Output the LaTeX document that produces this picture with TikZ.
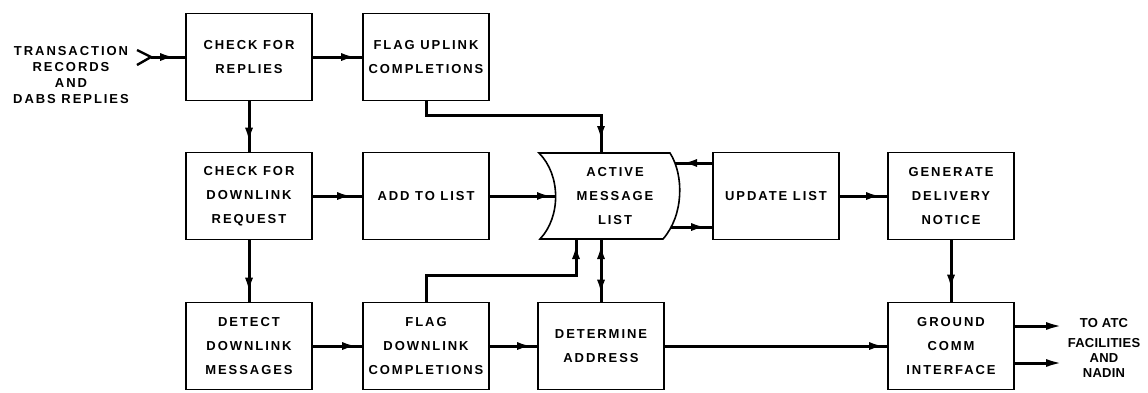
\documentclass[tikz,border=0pt]{standalone}
\usepackage{fontspec}
\setmainfont{Liberation Sans}[LetterSpace=15]
\newfontfamily\smallfam{Liberation Sans}[LetterSpace=2]
\usetikzlibrary{arrows.meta,decorations.markings}
\tikzset{
  box/.style={draw, line width=1.6pt, minimum width=126pt, minimum height=87pt,
    inner sep=0pt, align=center, font=\bfseries\fontsize{13}{24}\selectfont},
  conn/.style={line width=3pt, postaction={decorate},
    decoration={markings, mark=at position -#1 with {\arrow{Latex[length=15pt,width=8pt]}}}},
  conn/.default=7pt,
  conntwo/.style={line width=3pt, postaction={decorate},
    decoration={markings,
      mark=at position 7pt with {\arrowreversed{Latex[length=15pt,width=8pt]}},
      mark=at position -5pt with {\arrow{Latex[length=15pt,width=8pt]}}}},
  outarrow/.style={line width=3pt, -{Latex[length=17pt,width=8pt]}},
  shapeline/.style={line width=1.6pt},
}
\begin{document}
\begin{tikzpicture}[x=1pt,y=-1pt]
\useasboundingbox (0,0) rectangle (1148,392);

% boxes
\node[box] (cr) at (249,57) {CHECK FOR\\REPLIES};
\node[box] (fu) at (426,57) {FLAG UPLINK\\COMPLETIONS};
\node[box] (cd) at (249,196) {CHECK FOR\\DOWNLINK\\REQUEST};
\node[box] (al) at (426,196) {ADD TO LIST};
\node[box] (ul) at (776,196) {UPDATE LIST};
\node[box] (gd) at (951,196) {GENERATE\\DELIVERY\\NOTICE};
\node[box] (dd) at (249,346) {DETECT\\DOWNLINK\\MESSAGES};
\node[box] (fd) at (426,346) {FLAG\\DOWNLINK\\COMPLETIONS};
\node[box] (da) at (601,346) {DETERMINE\\ADDRESS};
\node[box] (gc) at (951,346) {GROUND\\COMM\\INTERFACE};

% active message list (stored data shape)
\node[align=center, inner sep=0pt, font=\bfseries\fontsize{13}{24}\selectfont] (aml) at (615,196) {ACTIVE\\MESSAGE\\LIST};
\draw[shapeline] (539,153) -- (670,153)
  .. controls (684,175) and (684,215) .. (663,239)
  -- (540,239)
  .. controls (561,217) and (561,175) .. (539,153) -- cycle;
\coordinate (aml-l) at (555,196);
\coordinate (aml-t) at (601,153);
\coordinate (aml-ru) at (675,163);
\coordinate (aml-rl) at (671,227);
\coordinate (aml-b1) at (576,239);
\coordinate (aml-b2) at (601,239);

% input
\node[align=center, inner sep=0pt, font=\bfseries\fontsize{13}{16}\selectfont] (inlabel) at (71,75)
  {TRANSACTION\\RECORDS\\AND\\DABS REPLIES};
\coordinate (inp) at (151,57);
\draw[line width=2.4pt] ([shift={(-14,-7)}]inp) -- (inp) -- ([shift={(-14,8)}]inp);
\draw[conn=10pt] (inp) -- (cr.west);

% output
\node[align=center, inner sep=0pt, font=\smallfam\bfseries\fontsize{13}{15}\selectfont] (outlabel) at (1104,348)
  {TO ATC\\[5pt]FACILITIES\\AND\\NADIN};
\coordinate (out1) at (1063,326);
\coordinate (out2) at (1063,363);
\draw[outarrow] ([yshift=20pt]gc.east) -- (out1);
\draw[outarrow] ([yshift=-17pt]gc.east) -- (out2);

% connectors
\draw[conn=6pt] (cr.east) -- (fu.west);
\draw[conn=9pt] (cr.south) -- (cd.north);
\draw[conn=10pt] (cd.east) -- (al.west);
\draw[conn=3pt] (al.east) -- (aml-l);
\draw[conn=12pt] (fu.south) -- ++(0,14) -| (aml-t);
\draw[conn=7pt] ([yshift=33pt]ul.west) -- (aml-ru);
\draw[conn=6pt] (aml-rl) -- ([yshift=-31pt]ul.west);
\draw[conn=6pt] (ul.east) -- (gd.west);
\draw[conn=12pt] (gd.south) -- (gc.north);
\draw[conn=9pt] (cd.south) -- (dd.north);
\draw[conn=5pt] (dd.east) -- (fd.west);
\draw[conn=5pt] (fd.east) -- (da.west);
\draw[conn=5pt] (fd.north) -- ++(0,-26) -| (aml-b1);
\draw[conntwo] (da.north) -- (aml-b2);
\draw[conn=3pt] (da.east) -- (gc.west);
\end{tikzpicture}
\end{document}
